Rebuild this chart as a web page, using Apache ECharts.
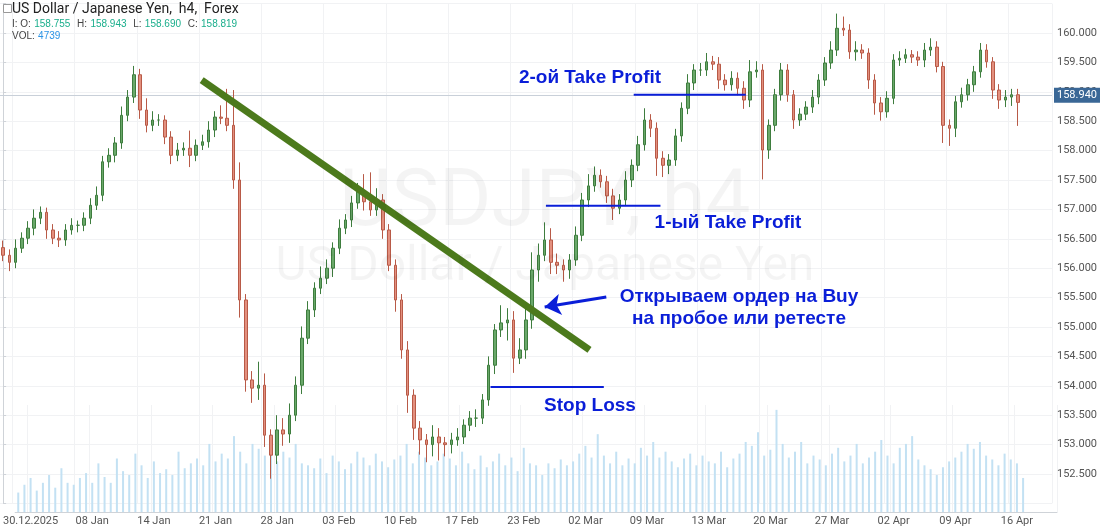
<!DOCTYPE html>
<html>
<head>
<meta charset="utf-8">
<script src="https://cdn.jsdelivr.net/npm/echarts@6/dist/echarts.min.js"></script>
<style>
  html, body { margin: 0; padding: 0; background: #fff; }
  #usdjpy_chart { width: 1100px; height: 527px; }
</style>
</head>
<body>
<div id="usdjpy_chart"></div>
<script>
// ------------------------------

var weekLabels = ['30.12.2025', '08 Jan', '14 Jan', '21 Jan', '28 Jan', '03 Feb', '10 Feb', '17 Feb', '23 Feb',
    '02 Mar', '09 Mar', '13 Mar', '20 Mar', '27 Mar', '02 Apr', '09 Apr', '16 Apr'];

var firstOpen = 156.35;

var closes = [
    156.22, 156.10, 156.34, 156.51, 156.68, 156.85, 156.95, 156.65, 156.51, 156.48,
    156.65, 156.73, 156.73, 156.85, 157.07, 157.24, 157.81, 157.92, 158.13, 158.60,
    158.91, 159.29, 158.69, 158.43, 158.52, 158.52, 158.23, 157.92, 158.01, 158.04,
    157.92, 158.09, 158.15, 158.35, 158.57, 158.55, 158.43, 157.50, 155.46, 154.10,
    153.96, 154.01, 153.16, 152.82, 153.25, 153.18, 153.50, 154.01, 154.81, 155.29,
    155.66, 155.83, 156.00, 156.34, 156.68, 156.82, 157.11, 157.30, 157.13, 156.99,
    157.16, 156.65, 156.05, 155.46, 154.61, 153.84, 153.28, 153.08, 153.00, 153.13,
    153.03, 153.00, 153.08, 153.13, 153.33, 153.45, 153.45, 153.76, 154.35, 154.95,
    155.07, 155.12, 154.47, 154.61, 155.12, 155.97, 156.22, 156.48, 156.10, 156.05,
    155.97, 156.14, 156.56, 157.16, 157.40, 157.58, 157.47, 157.23, 157.02, 157.16,
    157.50, 157.75, 158.10, 158.52, 158.38, 157.87, 157.75, 157.84, 158.25, 158.72,
    159.15, 159.37, 159.37, 159.51, 159.47, 159.20, 159.12, 159.23, 159.06, 158.86,
    159.34, 159.37, 158.01, 158.43, 158.95, 159.37, 158.95, 158.52, 158.62, 158.74,
    158.91, 159.20, 159.49, 159.71, 160.08, 160.05, 159.68, 159.71, 159.66, 159.20,
    158.81, 158.66, 158.89, 159.54, 159.57, 159.63, 159.59, 159.54, 159.71, 159.76,
    159.43, 158.43, 158.38, 158.83, 158.95, 159.12, 159.34, 159.71, 159.51, 159.03,
    158.86, 158.91, 158.95, 158.82
];

var upperWicks = [
    .12, .1, .15, .1, .12, .15, .1, .08, .1, .12,
    .1, .12, .08, .1, .12, .15, .1, .12, .1, .15,
    .12, .15, .1, .2, .15, .1, .08, .1, .12, .1,
    .3, .1, .12, .15, .1, .2, .5, .6, .3, .1,
    .15, .4, .2, .1, .25, .2, .2, .15, .2, .15,
    .1, .2, .15, .1, .15, .1, .12, .15, .3, .5,
    .2, .1, .1, .1, .1, .15, .1, .12, .1, .2,
    .15, .1, .12, .15, .1, .12, .15, .1, .15, .1,
    .3, .2, .15, .2, .25, .3, .2, .3, .2, .15,
    .1, .1, .15, .12, .2, .15, .1, .1, .12, .1,
    .15, .1, .15, .2, .1, .1, .12, .1, .12, .1,
    .15, .1, .12, .15, .1, .12, .1, .12, .1, .12,
    .2, .15, .1, .1, .1, .12, .1, .08, .1, .1,
    .12, .1, .1, .15, .25, .2, .1, .15, .1, .08,
    .1, .1, .12, .1, .12, .1, .08, .1, .12, .15,
    .1, .08, .1, .1, .12, .1, .1, .12, .1, .08,
    .1, .12, .1, .1
];

var lowerWicks = [
    .1, .15, .1, .08, .1, .12, .1, .15, .1, .12,
    .1, .08, .12, .1, .1, .08, .1, .1, .12, .1,
    .1, .1, .15, .12, .1, .1, .12, .15, .1, .1,
    .2, .1, .08, .1, .12, .1, .1, .15, .3, .2,
    .25, .2, .2, .4, .15, .2, .15, .1, .15, .1,
    .12, .1, .1, .15, .1, .1, .12, .1, .15, .1,
    .1, .15, .1, .2, .15, .3, .2, .25, .3, .2,
    .3, .2, .15, .1, .12, .1, .15, .1, .1, .15,
    .12, .3, .25, .1, .15, .15, .2, .1, .2, .15,
    .2, .15, .1, .1, .12, .1, .1, .12, .2, .1,
    .1, .12, .1, .1, .15, .3, .2, .15, .1, .1,
    .1, .12, .1, .1, .1, .15, .1, .1, .12, .15,
    .12, .1, .5, .15, .1, .1, .12, .15, .1, .1,
    .1, .12, .1, .1, .1, .1, .12, .15, .1, .15,
    .2, .15, .1, .1, .1, .08, .1, .1, .12, .1,
    .1, .3, .3, .15, .1, .1, .12, .1, .1, .15,
    .15, .12, .15, .4
];

var volumes = [
    20, 28, 35, 22, 30, 38, 25, 45, 30, 28,
    35, 40, 30, 50, 36, 30, 55, 42, 38, 60,
    48, 35, 52, 40, 44, 38, 62, 45, 50, 55,
    48, 70, 52, 60, 55, 78, 62, 50, 70, 65,
    58, 80, 52, 62, 56, 70, 50, 48, 45, 55,
    40, 58, 52, 44, 50, 62, 56, 48, 60, 52,
    46, 54, 58, 70, 50, 62, 56, 48, 52, 60,
    55, 48, 62, 50, 44, 58, 46, 52, 60, 48,
    56, 42, 66, 50, 48, 38, 50, 45, 54, 48,
    52, 60, 68, 56, 80, 58, 50, 62, 48, 55,
    50, 66, 58, 72, 56, 62, 52, 46, 55, 60,
    48, 58, 52, 50, 62, 46, 55, 60, 72, 68,
    82, 58, 64, 105, 70, 56, 62, 72, 50, 58,
    54, 48, 60, 66, 52, 58, 70, 50, 56, 62,
    74, 58, 50, 66, 70, 78, 54, 48, 44, 38,
    46, 52, 56, 62, 70, 65, 72, 58, 54, 48,
    60, 54, 50, 35
];

var lastPrice = 158.94;

// Annotations, in [candle index, price]
var trendLine = [[31.9, 159.20], [94.2, 154.61]];
var takeProfit2 = [[101.3, 158.95], [119.3, 158.95]];
var takeProfit1 = [[87.2, 157.06], [105.6, 157.06]];
var stopLoss = [[78.3, 153.98], [96.5, 153.98]];
var entryArrow = [[96.9, 155.51], [87.0, 155.34]];

var slotCount = 169;


// Setup module
// ------------------------------

var UsdJpyChart = function() {

    var _buildChart = function() {
        var element = document.getElementById('usdjpy_chart');
        if (!element) return;
        var chart = echarts.init(element);

        // Styles
        var gridLineColor = '#f1f2f4',
            axisLineColor = '#cfd3d8',
            axisLabelColor = '#555',
            upColor = '#6aa86a',
            upBorder = '#3e7d3e',
            downColor = '#e3907f',
            downBorder = '#b85a47',
            annotationBlue = '#0a1ed8',
            trendGreen = '#4c7a1c';

        // Build candles: open = previous close
        var candles = [];
        var prev = firstOpen;
        closes.forEach(function(c, i) {
            var o = prev;
            var hi = Math.max(o, c) + upperWicks[i];
            var lo = Math.min(o, c) - lowerWicks[i];
            candles.push([o, c, lo, hi]);
            prev = c;
        });

        var categories = [];
        for (var i = 0; i < slotCount; i++) categories.push(String(i));

        var isWeekStart = function(idx) {
            return idx >= 2 && (idx - 2) % 10 === 0 && (idx - 2) / 10 < weekLabels.length;
        };

        var lineSeries = function(points, color, width) {
            return {
                type: 'line',
                xAxisIndex: 2,
                yAxisIndex: 0,
                data: points,
                symbol: 'none',
                silent: true,
                z: 10,
                lineStyle: { color: color, width: width }
            };
        };

        // centred text placed by its anchor point
        var centeredText = function(text, x, y, fill, font) {
            return {
                type: 'text',
                x: x,
                y: y,
                z: 20,
                silent: true,
                style: {
                    text: text,
                    fill: fill,
                    font: font,
                    textAlign: 'center',
                    textVerticalAlign: 'middle'
                }
            };
        };

        var blueFont = 'bold 19px "Liberation Sans", Arial, sans-serif';

        chart.setOption({
            animation: false,
            textStyle: { fontFamily: 'Roboto, Arial, sans-serif' },

            grid: [
                { left: 0, right: 43, top: 3.6, bottom: 23.6 },
                { left: 0, right: 43, top: 405, bottom: 13 }
            ],

            xAxis: [
                {
                    type: 'category',
                    gridIndex: 0,
                    data: categories,
                    axisLine: { show: false },
                    axisTick: { show: false },
                    axisLabel: { show: false },
                    splitLine: {
                        show: true,
                        interval: function(idx) { return isWeekStart(idx); },
                        lineStyle: { color: gridLineColor }
                    }
                },
                {
                    type: 'category',
                    gridIndex: 1,
                    data: categories,
                    axisLine: { lineStyle: { color: axisLineColor } },
                    axisTick: { show: false },
                    axisLabel: {
                        interval: function(idx) { return isWeekStart(idx); },
                        formatter: function(val) { return weekLabels[(+val - 2) / 10]; },
                        color: axisLabelColor,
                        fontSize: 11,
                        margin: 4
                    },
                    splitLine: {
                        show: true,
                        interval: function(idx) { return isWeekStart(idx); },
                        lineStyle: { color: gridLineColor }
                    }
                },
                {
                    type: 'value',
                    gridIndex: 0,
                    min: -0.5,
                    max: slotCount - 0.5,
                    show: false
                }
            ],

            yAxis: [
                {
                    type: 'value',
                    gridIndex: 0,
                    position: 'right',
                    min: 152,
                    max: 160.5,
                    interval: 0.5,
                    axisLine: { show: true, lineStyle: { color: axisLineColor } },
                    axisTick: { show: true, length: 3, lineStyle: { color: axisLineColor } },
                    axisLabel: {
                        color: axisLabelColor,
                        fontSize: 11,
                        margin: 5,
                        formatter: function(v) { return v < 152.4 || v > 160.1 ? '' : v.toFixed(3); }
                    },
                    splitLine: { lineStyle: { color: gridLineColor } }
                },
                {
                    type: 'value',
                    gridIndex: 1,
                    min: 0,
                    max: 110,
                    show: false
                }
            ],

            graphic: [
                {
                    type: 'rect', left: 3, top: 4, z: 20,
                    shape: { width: 8, height: 8 },
                    style: { fill: '#fff', stroke: '#999', lineWidth: 1 }
                },
                {
                    type: 'text', left: 12, top: 2, z: 20,
                    style: { text: 'US Dollar / Japanese Yen,  h4,  Forex', fill: '#222', font: '14px Roboto, Arial, sans-serif' }
                },
                {
                    type: 'text', left: 12, top: 18, z: 20,
                    style: {
                        text: '{l|I: O:} {v|158.755}  {l|H:} {v|158.943}  {l|L:} {v|158.690}  {l|C:} {v|158.819}\n{l|VOL:} {b|4739}',
                        rich: {
                            l: { fill: '#444', fontSize: 10, lineHeight: 12 },
                            v: { fill: '#1aae8c', fontSize: 10, lineHeight: 12 },
                            b: { fill: '#2a93e6', fontSize: 10, lineHeight: 12 }
                        }
                    }
                },
                centeredText('USDJPY, h4', 545, 205, 'rgba(0,0,0,0.045)', '80px Roboto, Arial, sans-serif'),
                centeredText('US Dollar / Japanese Yen', 545, 268, 'rgba(0,0,0,0.045)', '48px Roboto, Arial, sans-serif'),
                centeredText('2-ой Take Profit', 590, 78, annotationBlue, blueFont),
                centeredText('1-ый Take Profit', 728, 223, annotationBlue, blueFont),
                centeredText('Открываем ордер на Buy', 739, 297, annotationBlue, blueFont),
                centeredText('на пробое или ретесте', 739, 319, annotationBlue, blueFont),
                centeredText('Stop Loss', 590, 406, annotationBlue, blueFont)
            ],

            series: [
                {
                    name: 'Volume',
                    type: 'bar',
                    xAxisIndex: 1,
                    yAxisIndex: 1,
                    data: volumes,
                    barWidth: 2,
                    silent: true,
                    itemStyle: { color: '#c3e1f3' }
                },
                {
                    name: 'USDJPY',
                    type: 'candlestick',
                    xAxisIndex: 0,
                    yAxisIndex: 0,
                    data: candles,
                    barWidth: 3,
                    z: 5,
                    itemStyle: {
                        color: upColor,
                        color0: downColor,
                        borderColor: upBorder,
                        borderColor0: downBorder,
                        borderWidth: 1
                    },
                    markLine: {
                        silent: true,
                        symbol: 'none',
                        data: [{ yAxis: lastPrice }],
                        lineStyle: { color: '#c9d0d9', width: 1, type: 'solid' },
                        label: {
                            position: 'end',
                            formatter: lastPrice.toFixed(3),
                            color: '#fff',
                            backgroundColor: '#3a6796',
                            padding: [2, 3],
                            fontSize: 11,
                            distance: 2
                        }
                    }
                },
                lineSeries(trendLine, trendGreen, 7),
                lineSeries(takeProfit2, annotationBlue, 2),
                lineSeries(takeProfit1, annotationBlue, 2),
                lineSeries(stopLoss, annotationBlue, 2),
                {
                    type: 'line',
                    xAxisIndex: 2,
                    yAxisIndex: 0,
                    data: [],
                    z: 10,
                    markLine: {
                        silent: true,
                        symbol: ['none', 'arrow'],
                        symbolSize: 16,
                        label: { show: false },
                        lineStyle: { color: annotationBlue, width: 3, type: 'solid' },
                        data: [[{ coord: entryArrow[0] }, { coord: entryArrow[1] }]]
                    }
                }
            ]
        });

        window.addEventListener('resize', function() { chart.resize(); });
    };

    return {
        init: function() { _buildChart(); }
    };
}();

document.addEventListener('DOMContentLoaded', function() {
    UsdJpyChart.init();
});
</script>
</body>
</html>
